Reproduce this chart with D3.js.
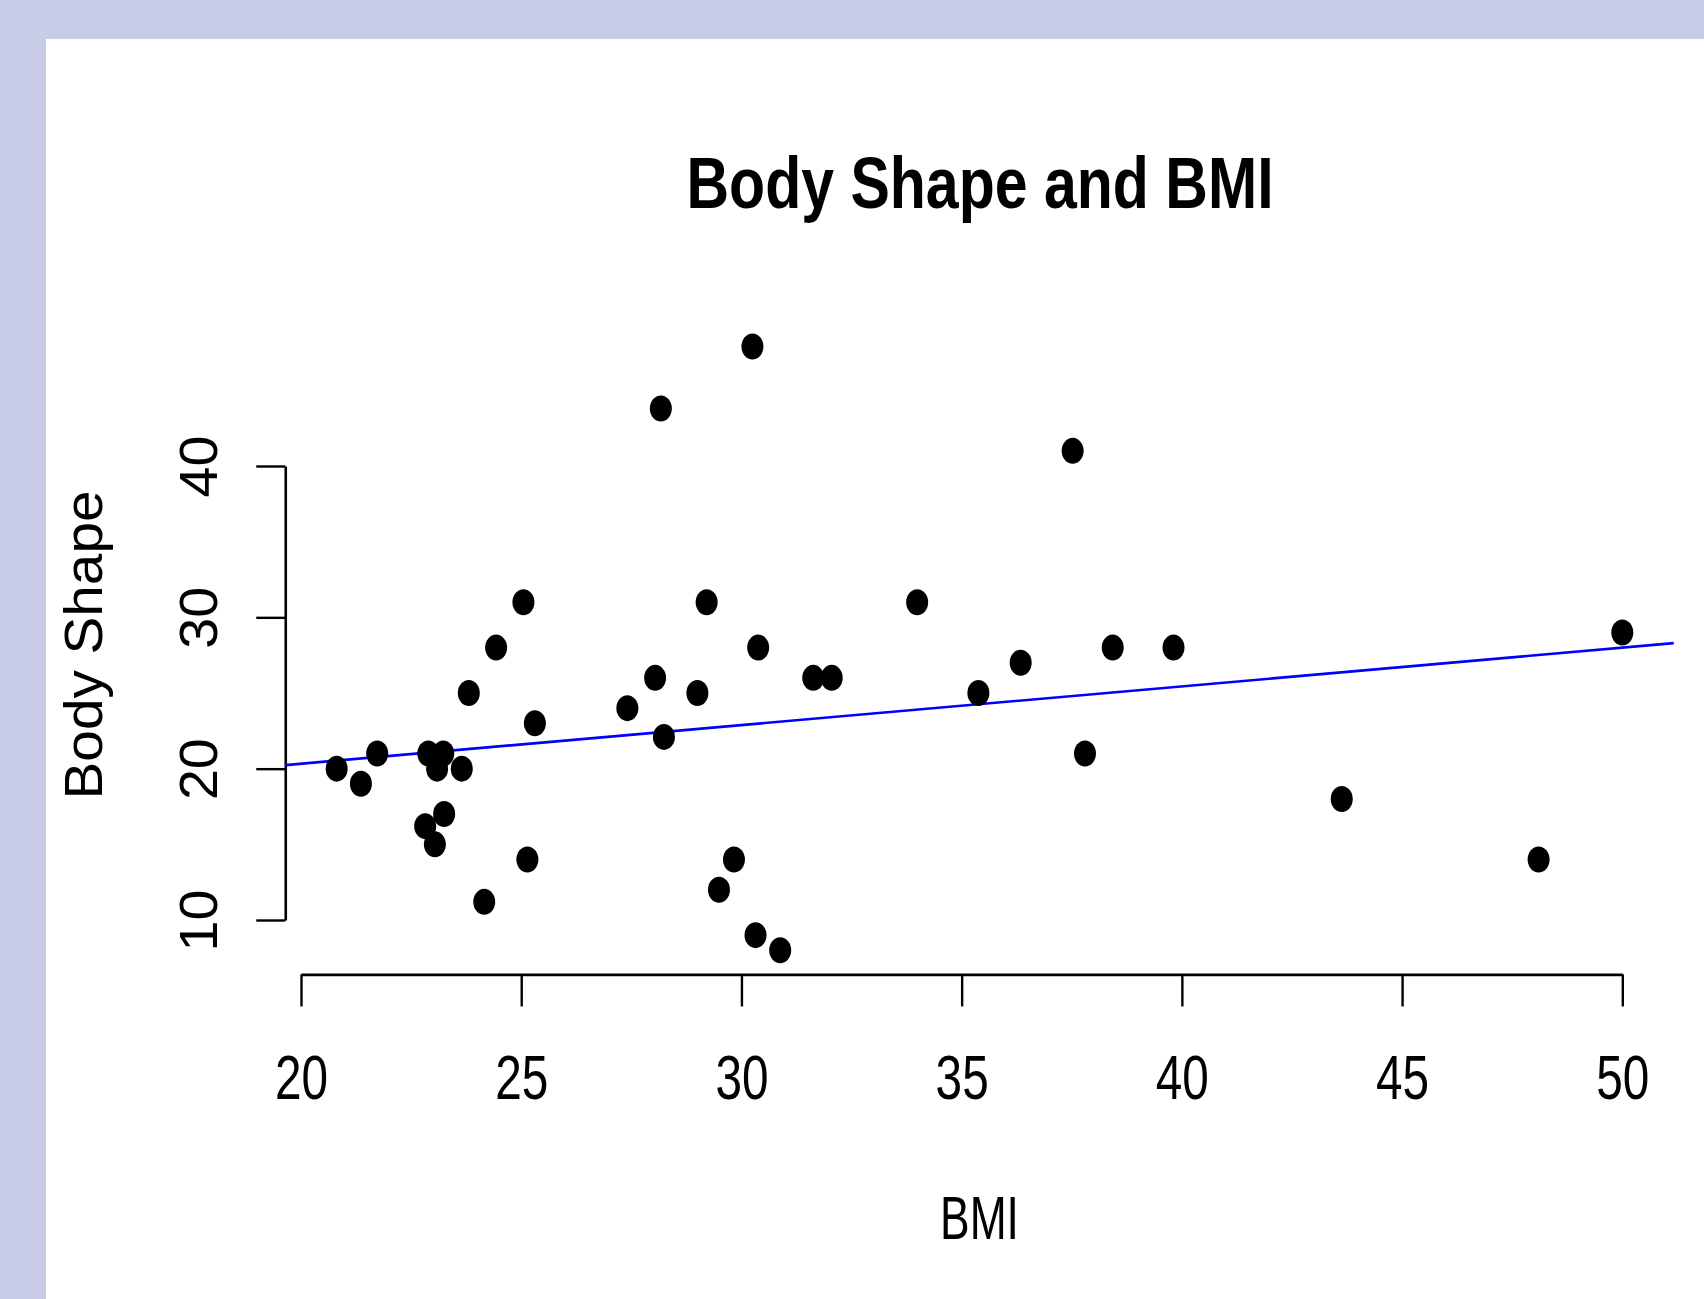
<!DOCTYPE html>
<html>
<head>
<meta charset="utf-8">
<script src="https://cdn.jsdelivr.net/npm/d3@7/dist/d3.min.js"></script>
<style>
  html, body { margin: 0; padding: 0; background: #c9cce7; }
  svg { display: block; }
  text { font-family: "Liberation Sans", Arial, sans-serif; fill: #000; }
</style>
</head>
<body>
<script>
// ---- data ----
const bmi = [20.81, 21.36, 21.73, 22.89, 23.23, 23.09, 23.65, 23.25, 22.82, 23.04,
             23.81, 24.43, 25.05, 25.31, 25.14, 24.16,
             27.41, 28.04, 28.17, 28.24, 29.0, 29.21, 29.49, 29.83, 30.25, 30.38,
             30.32, 30.88, 31.63, 32.05, 33.99, 35.38, 36.34, 37.52, 37.8, 38.43,
             39.81, 43.63, 48.1, 50.0];
const bodyShape = [20, 19, 21, 21, 21, 20, 20, 17, 16.2, 15,
                   25, 28, 31, 23, 14, 11.2,
                   24, 26, 43.8, 22.1, 25, 31, 12, 14, 47.9, 28,
                   9, 8, 26, 26, 31, 25, 27, 41, 21, 28,
                   28, 18, 14, 29];
const xTicks = [20, 25, 30, 35, 40, 45, 50];
const yTicks = [10, 20, 30, 40];
const fitLine = [15.21, 0.2557]; // intercept, slope
const titleText = "Body Shape and BMI";
const xLabel = "BMI";
const yLabel = "Body Shape";

// ---- layout ----
const W = 1704, H = 1299;
const svg = d3.select("body").append("svg").attr("width", W).attr("height", H);

svg.append("rect").attr("x", 0).attr("y", 0).attr("width", W).attr("height", H).attr("fill", "#c9cce7");
svg.append("rect").attr("x", 46).attr("y", 39).attr("width", W - 46).attr("height", H - 39).attr("fill", "#ffffff");

const plotL = 286, plotR = 1676, plotT = 300, plotB = 975;

// R-style 4% expansion of the data range
const xr = d3.extent(bmi), yr = d3.extent(bodyShape);
const xPad = (xr[1] - xr[0]) * 0.04, yPad = (yr[1] - yr[0]) * 0.04;

// scales calibrated so that ticks land where they do in the picture
const x = d3.scaleLinear().domain([20, 50]).range([301, 1622.3]);
const y = d3.scaleLinear().domain([10, 40]).range([920, 466]);
const xMin = xr[0] - xPad, xMax = xr[1] + xPad;

// x axis (line spans first to last tick like R)
const xAxisScale = x.copy().domain([xTicks[0], xTicks[xTicks.length - 1]]).range([x(xTicks[0]), x(xTicks[xTicks.length - 1])]);
const gx = svg.append("g").attr("transform", `translate(0,${y(yr[0] - yPad)})`)
  .call(d3.axisBottom(xAxisScale).tickValues(xTicks).tickSize(32).tickSizeOuter(0).tickFormat(d3.format("d")));
gx.select(".domain").attr("stroke", "#000").attr("stroke-width", 2.6);
gx.selectAll(".tick line").attr("stroke", "#000").attr("stroke-width", 2.4);
gx.selectAll(".tick text")
  .attr("y", null).attr("dy", null)
  .attr("transform", "translate(0,125) scale(0.76,1)")
  .attr("font-size", 62.8)
  .attr("font-family", "'Liberation Sans', Arial, sans-serif")
  .attr("fill", "#000");

// y axis
const yAxisScale = y.copy().domain([yTicks[0], yTicks[yTicks.length - 1]]).range([y(yTicks[0]), y(yTicks[yTicks.length - 1])]);
const gy = svg.append("g").attr("transform", `translate(${x(xMin)},0)`)
  .call(d3.axisLeft(yAxisScale).tickValues(yTicks).tickSize(29).tickSizeOuter(0).tickFormat(d3.format("d")));
gy.select(".domain").attr("stroke", "#000").attr("stroke-width", 2.6);
gy.selectAll(".tick line").attr("stroke", "#000").attr("stroke-width", 2.4);
gy.selectAll(".tick text")
  .attr("x", null).attr("dy", null)
  .attr("text-anchor", "middle")
  .attr("transform", "translate(-68,0) rotate(-90) scale(1.05,1)")
  .attr("font-size", 53)
  .attr("font-family", "'Liberation Sans', Arial, sans-serif")
  .attr("fill", "#000");

// regression line across the plot region
const lineData = [xMin, xMax].map(v => [v, fitLine[0] + fitLine[1] * v]);
svg.append("path")
  .datum(lineData)
  .attr("d", d3.line().x(d => x(d[0])).y(d => y(d[1])))
  .attr("stroke", "#0000ff").attr("stroke-width", 2.6).attr("fill", "none");

// points
svg.append("g").selectAll("ellipse")
  .data(bmi.map((v, i) => [v, bodyShape[i]]))
  .join("ellipse")
  .attr("cx", d => x(d[0]))
  .attr("cy", d => y(d[1]))
  .attr("rx", 11).attr("ry", 13)
  .attr("fill", "#000");

// title
svg.append("text")
  .attr("transform", "translate(980,208) scale(0.82,1)")
  .attr("text-anchor", "middle")
  .attr("font-weight", "bold")
  .attr("font-size", 72)
  .text(titleText);

// x label
svg.append("text")
  .attr("transform", "translate(979.5,1239) scale(0.73,1)")
  .attr("text-anchor", "middle")
  .attr("font-size", 60.8)
  .text(xLabel);

// y label
svg.append("text")
  .attr("transform", "translate(101.7,645) rotate(-90) scale(1.07,1)")
  .attr("text-anchor", "middle")
  .attr("font-size", 53)
  .text(yLabel);
</script>
</body>
</html>
